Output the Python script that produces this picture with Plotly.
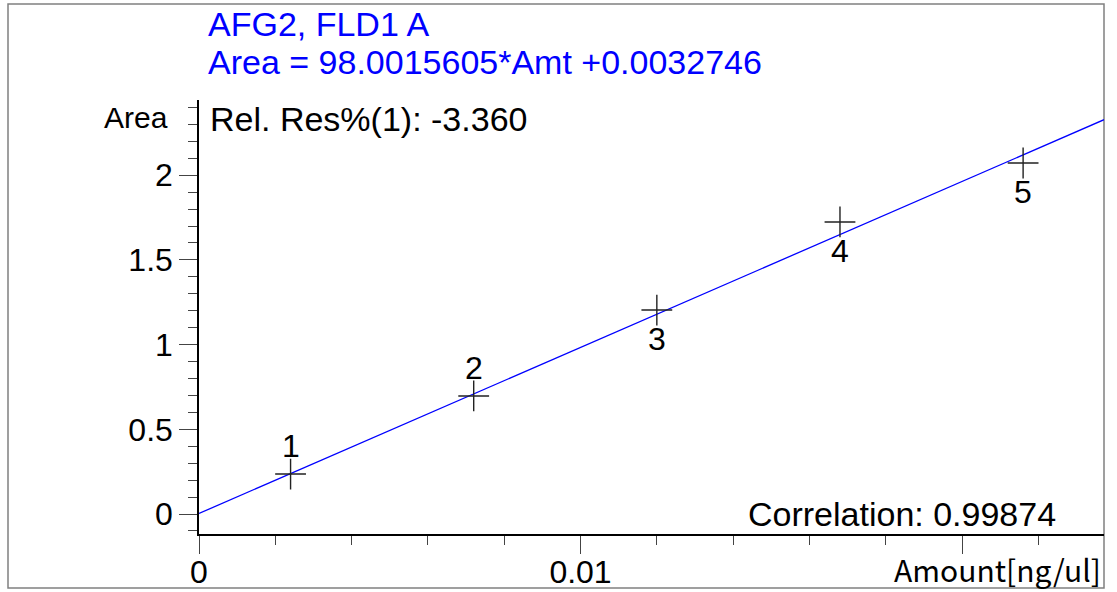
import plotly.graph_objects as go

# ---- data ----
amounts = [0.0024, 0.0072, 0.012, 0.0168, 0.0216]
areas = [0.236, 0.697, 1.204, 1.724, 2.072]
point_labels = ["1", "2", "3", "4", "5"]
label_pos = ["above", "above", "below", "below", "below"]
slope = 98.0015605
intercept = 0.0032746
x_range = [0, 0.02372]
y_range = [-0.118, 2.444]
x_tickvals = [0, 0.01, 0.02]
x_ticktext = ["0", "0.01", ""]

title1 = "AFG2, FLD1 A"
title2 = "Area = 98.0015605*Amt +0.0032746"
relres = "Rel. Res%(1): -3.360"
corr = "Correlation: 0.99874"
x_title = "Amount[ng/ul]"
y_title = "Area"

# ---- layout geometry (pixels) ----
W_FIG, H_FIG = 1117, 592
L, R, T, B = 199, 1104, 100, 534
PW, PH = R - L, B - T


def px(xp):
    return (xp - L) / PW


def py(yp):
    return (B - yp) / PH


FONT = "Liberation Sans, Arial, sans-serif"
JFONT = "Noto Sans CJK JP, sans-serif"

fig = go.Figure()

line_x = list(x_range)
line_y = [slope * v + intercept for v in line_x]
fig.add_trace(go.Scatter(x=line_x, y=line_y, mode="lines",
                         line=dict(color="#0000ff", width=1.3),
                         hoverinfo="skip", showlegend=False))

fig.add_trace(go.Scatter(x=amounts, y=areas, mode="markers",
                         marker=dict(symbol="cross-thin", size=22,
                                     line=dict(color="#222222", width=1.4)),
                         showlegend=False, cliponaxis=False))

annotations = []
for xv, yv, t, pos in zip(amounts, areas, point_labels, label_pos):
    annotations.append(dict(x=xv, y=yv, xref="x", yref="y", text=t,
                            showarrow=False,
                            yshift=28 if pos == "above" else -29,
                            font=dict(family=FONT, size=32, color="#000000"),
                            xanchor="center", yanchor="middle"))

annotations += [
    dict(x=px(206), y=py(24), xref="paper", yref="paper", text=title1,
         showarrow=False, xanchor="left", yanchor="middle",
         font=dict(family=FONT, size=34, color="#0000ff")),
    dict(x=px(206), y=py(62), xref="paper", yref="paper", text=title2,
         showarrow=False, xanchor="left", yanchor="middle",
         font=dict(family=FONT, size=34, color="#0000ff")),
    dict(x=px(208), y=py(119), xref="paper", yref="paper", text=relres,
         showarrow=False, xanchor="left", yanchor="middle",
         font=dict(family=FONT, size=34, color="#000000")),
    dict(x=px(1058), y=py(514), xref="paper", yref="paper", text=corr,
         showarrow=False, xanchor="right", yanchor="middle",
         font=dict(family=FONT, size=34, color="#000000")),
    dict(x=px(1103), y=py(569), xref="paper", yref="paper", text=x_title,
         showarrow=False, xanchor="right", yanchor="middle",
         font=dict(family=JFONT, size=30, color="#000000")),
    dict(x=px(170), y=py(117), xref="paper", yref="paper", text=y_title,
         showarrow=False, xanchor="right", yanchor="middle",
         font=dict(family=FONT, size=30, color="#000000")),
]

shapes = [dict(type="rect", xref="paper", yref="paper",
               x0=px(8), x1=px(1104), y0=py(588), y1=py(4),
               line=dict(color="#808080", width=1.5), layer="below")]

fig.update_layout(
    template="none",
    width=W_FIG, height=H_FIG,
    margin=dict(l=L, r=W_FIG - R, t=T, b=H_FIG - B, pad=0),
    paper_bgcolor="white", plot_bgcolor="white",
    showlegend=False,
    annotations=annotations,
    shapes=shapes,
    font=dict(family=FONT, size=32, color="#000000"),
    xaxis=dict(range=x_range, tickmode="array", tickvals=x_tickvals,
               ticktext=x_ticktext, ticks="outside", ticklen=18,
               tickwidth=1.3, tickcolor="#444444", showline=True,
               linecolor="#000000", linewidth=1.5, showgrid=False,
               zeroline=False, ticklabelstandoff=-9, automargin=False,
               tickfont=dict(family=FONT, size=32, color="#000000"),
               minor=dict(tickmode="linear", tick0=0, dtick=0.002,
                          ticks="outside", ticklen=9, tickwidth=1.3,
                          tickcolor="#444444", showgrid=False)),
    yaxis=dict(range=y_range, tickmode="linear", tick0=0, dtick=0.5,
               ticks="outside", ticklen=18, tickwidth=1.3,
               tickcolor="#444444", showline=True, linecolor="#000000",
               linewidth=1.5, showgrid=False, zeroline=False,
               ticklabelstandoff=0, automargin=False,
               tickfont=dict(family=FONT, size=32, color="#000000"),
               minor=dict(tickmode="linear", tick0=0, dtick=0.1,
                          ticks="outside", ticklen=9, tickwidth=1.3,
                          tickcolor="#444444", showgrid=False)),
)

fig.write_html("out.html",
               config={"displayModeBar": False},
               post_script="document.body.style.margin='0';"
                           "document.body.style.overflow='hidden';")
